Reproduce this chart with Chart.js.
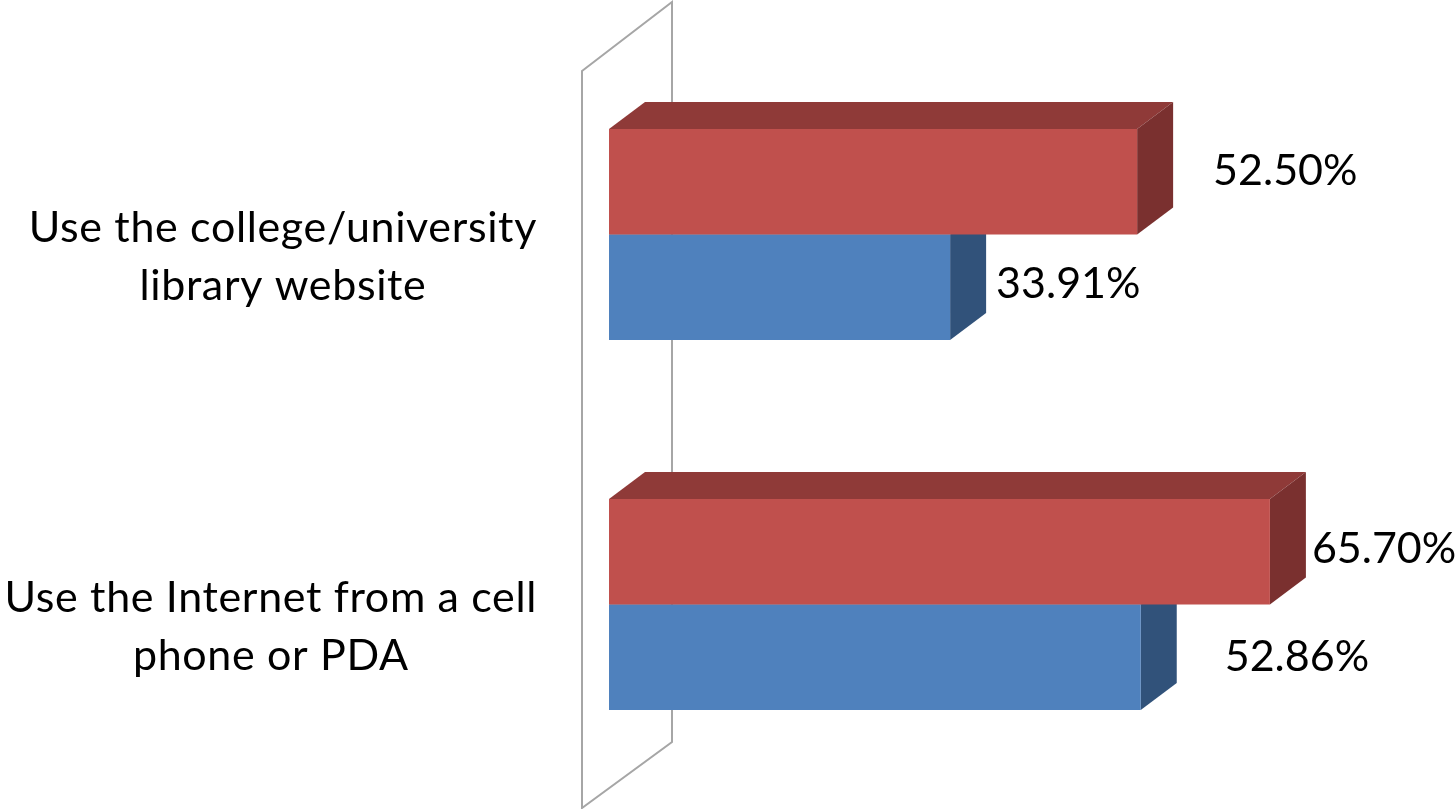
<!DOCTYPE html>
<html><head><meta charset="utf-8">
<style>html,body{margin:0;padding:0;background:#fff}canvas{display:block}</style>
<script src="https://cdn.jsdelivr.net/npm/chart.js@4"></script></head>
<body><canvas id="c" width="1455" height="809"></canvas>
<script>
const categories = [["Use the college/university","library website"],["Use the Internet from a cell","phone or PDA"]];
const redValues = [52.50, 65.70];
const blueValues = [33.91, 52.86];
const FONT = '43px Lato, Carlito, sans-serif';
const DX = 36, DY = -27;
const faces = [{top:'#8f3a38',side:'#7a302f'},{top:'#3a6190',side:'#31527a'}];
const labelShift = [[[76,-11],[42,-3]],[[46,-3],[84,0]]];
const poly = (c,pts,fill,stroke)=>{c.beginPath();pts.forEach((p,i)=>i?c.lineTo(p[0],p[1]):c.moveTo(p[0],p[1]));c.closePath();
  if(fill){c.fillStyle=fill;c.fill();} if(stroke){c.strokeStyle=stroke;c.lineWidth=2;c.stroke();}};
const threeD = {
  id:'threeD',
  beforeDatasetsDraw(chart){
    const c=chart.ctx,x0=chart.scales.x.getPixelForValue(0);
    c.save();
    poly(c,[[x0-27,71],[x0+63,2],[x0+63,742],[x0-27,808]],null,'#a6a6a6');
    [1,0].forEach(d=>{
      chart.getDatasetMeta(d).data.forEach(b=>{
        const t=b.y-b.height/2,u=b.y+b.height/2,l=b.base,r=b.x;
        poly(c,[[l,t],[l+DX,t+DY],[r+DX,t+DY],[r,t]],faces[d].top);
        poly(c,[[r,t],[r+DX,t+DY],[r+DX,u+DY],[r,u]],faces[d].side);
      });
    });
    c.restore();
  },
  afterDatasetsDraw(chart){
    const c=chart.ctx,ys=chart.scales.y;
    c.save();c.font=FONT;c.fillStyle='#000';c.textBaseline='middle';
    chart.data.datasets.forEach((ds,d)=>{
      chart.getDatasetMeta(d).data.forEach((b,i)=>{
        c.textAlign='left';
        c.fillText(ds.data[i].toFixed(2)+'%',b.x+labelShift[d][i][0],b.y+labelShift[d][i][1]);
      });
    });
    // category labels: each block centred on itself, right edge fixed
    c.letterSpacing='0.65px';
    chart.data.labels.forEach((lines,i)=>{
      const y=ys.getPixelForValue(i);
      const w=Math.max(...lines.map(s=>c.measureText(s).width));
      const cx=537-w/2;
      c.textAlign='center';
      lines.forEach((s,k)=>c.fillText(s,cx,y+22.5+(k-0.5)*58));
    });
    c.restore();
  }
};
new Chart(document.getElementById('c'),{
  type:'bar',
  data:{labels:categories,datasets:[
    {label:'Series 2',data:redValues,backgroundColor:'#C0504D',borderWidth:0},
    {label:'Series 1',data:blueValues,backgroundColor:'#4F81BD',borderWidth:0}
  ]},
  options:{
    indexAxis:'y',responsive:false,animation:false,
    layout:{padding:{left:609,top:49.5,bottom:19.5,right:0}},
    categoryPercentage:211/370,barPercentage:1,
    scales:{
      x:{display:false,min:0,max:84.1,grid:{display:false}},
      y:{display:false,grid:{display:false}}
    },
    plugins:{legend:{display:false},tooltip:{enabled:false},title:{display:false}}
  },
  plugins:[threeD]
});
</script></body></html>
